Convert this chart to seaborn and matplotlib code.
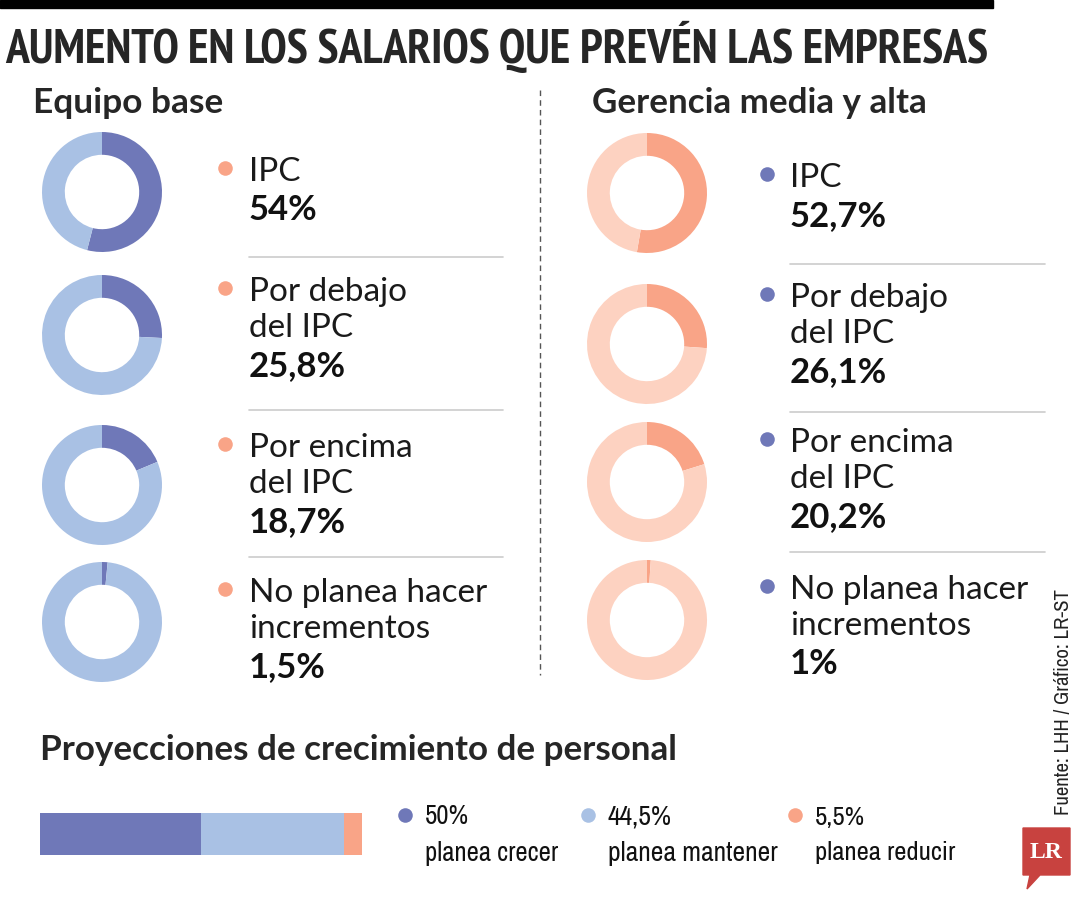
import matplotlib
matplotlib.use("Agg")
import matplotlib.pyplot as plt
from matplotlib import font_manager
from matplotlib.patches import Polygon, Rectangle
import numpy as np
import seaborn as sns

# datos
categorias = ["IPC", "Por debajo\ndel IPC", "Por encima\ndel IPC", "No planea hacer\nincrementos"]
equipo_base = [54, 25.8, 18.7, 1.5]
equipo_base_txt = ["54%", "25,8%", "18,7%", "1,5%"]
gerencia = [52.7, 26.1, 20.2, 1]
gerencia_txt = ["52,7%", "26,1%", "20,2%", "1%"]
personal_labels = ["planea crecer", "planea mantener", "planea reducir"]
personal = [50, 44.5, 5.5]
personal_txt = ["50%", "44,5%", "5,5%"]

DARK = "#6f78b8"
LIGHT = "#a9c1e4"
SALMON = "#f9a487"
SALMON_L = "#fdd2c1"

sns.set_theme(style="white")
plt.rcParams["font.family"] = ["Lato", "DejaVu Sans"]

# buscar una fuente estrecha instalada
cond_files = [f for f in font_manager.fontManager.ttflist
              if ("condensed" in str(f.stretch).lower() or "narrow" in f.fname.lower()
                  or "condensed" in f.fname.lower()) and "italic" not in f.fname.lower()
              and "oblique" not in f.fname.lower()]
def pick(bold):
    good = [f for f in cond_files if ((f.weight in ("bold", 700)) == bold)]
    good.sort(key=lambda f: ("Narrow" not in f.name, "Noto" not in f.name, f.fname))
    if good:
        return font_manager.FontProperties(fname=good[0].fname)
    return font_manager.FontProperties(family="DejaVu Sans", weight="bold" if bold else "normal")
cond_bold = pick(True)
cond_reg = pick(False)

W, H = 1080, 900
fig = plt.figure(figsize=(10.8, 9), dpi=100)
bg = fig.add_axes([0, 0, 1, 1])
bg.set_xlim(0, W)
bg.set_ylim(H, 0)
bg.axis("off")
renderer = fig.canvas.get_renderer()


def fit(t, width, exact=False, vertical=False):
    # ajusta el tamaño del texto al ancho disponible
    bb = t.get_window_extent(renderer)
    size = bb.height if vertical else bb.width
    if size > width or exact:
        t.set_fontsize(t.get_fontsize() * width / size)


# barra superior y titulo
bg.add_patch(Rectangle((0, 0), 993, 8, color="black"))
tit = bg.text(5, 47, "AUMENTO EN LOS SALARIOS QUE PREVÉN LAS EMPRESAS",
              fontproperties=cond_bold, va="center", ha="left")
tit.set_fontsize(29)
fit(tit, 985, exact=True)

bg.text(33, 103, "Equipo base", fontsize=25.4, fontweight="bold", va="center")
bg.text(592, 103, "Gerencia media y alta", fontsize=25.2, fontweight="bold", va="center")
bg.plot([540, 540], [90, 675], ls=(0, (4, 3)), color="#555555", lw=1)


def donut(cx, cy, v, c1, c2):
    r = 60
    ax = fig.add_axes([(cx - r) / W, 1 - (cy + r) / H, 2 * r / W, 2 * r / H])
    ax.pie([v, 100 - v], colors=[c1, c2], startangle=90, counterclock=False,
           wedgeprops=dict(width=0.38, linewidth=0))
    ax.set_xlim(-1, 1)
    ax.set_ylim(-1, 1)
    ax.set_aspect("equal")


def bloque(x_b, x_t, y0, label, valor, col):
    bg.scatter([x_b], [y0 - 4], s=110, color=col, zorder=3, linewidths=0)
    lines = label.split("\n")
    for i, ln in enumerate(lines):
        bg.text(x_t, y0 + i * 36, ln, fontsize=24, fontweight="normal", va="center", color="#1a1a1a")
    bg.text(x_t, y0 + len(lines) * 36 + 2, valor, fontsize=25,
            fontweight="bold", va="center", color="#111111")


left_cy = [192, 335, 485, 622]
left_ty = [172, 292, 448, 593]
right_cy = [193, 344, 482, 620]
right_ty = [178, 298, 443, 590]

for i in range(4):
    donut(102, left_cy[i], equipo_base[i], DARK, LIGHT)
    donut(647, right_cy[i], gerencia[i], SALMON, SALMON_L)
    bloque(225, 249, left_ty[i], categorias[i], equipo_base_txt[i], SALMON)
    bloque(767, 790, right_ty[i], categorias[i], gerencia_txt[i], DARK)

for y in [257, 410, 557]:
    bg.plot([249, 503], [y, y], color="#cccccc", lw=1.2)
for y in [264, 412, 552]:
    bg.plot([790, 1045], [y, y], color="#cccccc", lw=1.2)

# proyecciones de personal
bg.text(40, 750, "Proyecciones de crecimiento de personal", fontsize=25.2, fontweight="bold", va="center")

axb = fig.add_axes([40 / W, 1 - 855 / H, 322 / W, 42 / H])
cum = np.cumsum(personal)
colores = [DARK, LIGHT, SALMON]
for val, c in zip(cum[::-1], colores[::-1]):
    sns.barplot(x=[val], y=["p"], color=c, width=1, ax=axb, linewidth=0, saturation=1)
axb.set_xlim(0, 100)
axb.set_ylim(0.5, -0.5)
axb.axis("off")

for x_b, lab, pct, c, wmax in zip([405, 588, 795], personal_labels, personal_txt, colores, [133, 170, 140]):
    bg.scatter([x_b], [815], s=110, color=c, zorder=3, linewidths=0)
    t1 = bg.text(x_b + 20, 817, pct, fontproperties=cond_reg, va="center", color="#111111")
    t1.set_fontsize(21)
    t2 = bg.text(x_b + 20, 853, lab, fontproperties=cond_reg, va="center", color="#111111")
    t2.set_fontsize(21)
    fit(t2, wmax, exact=True)
    t1.set_fontsize(t2.get_fontsize())

# fuente y logo
src = bg.text(1063, 815, "Fuente: LHH / Gráfico: LR-ST", rotation=90, fontproperties=cond_reg,
              va="center", ha="left", rotation_mode="anchor", color="#222222")
src.set_fontsize(13)
fit(src, 225, exact=True, vertical=True)
bg.add_patch(Polygon([[1023, 828], [1070, 828], [1070, 875], [1040, 875], [1027, 889], [1030, 875], [1023, 875]],
                     closed=True, color="#c8423f"))
bg.text(1046, 852, "LR", fontsize=17, fontweight="bold", family="Liberation Serif", color="white",
        ha="center", va="center")

fig.savefig("out.png", dpi=100, facecolor="white")
